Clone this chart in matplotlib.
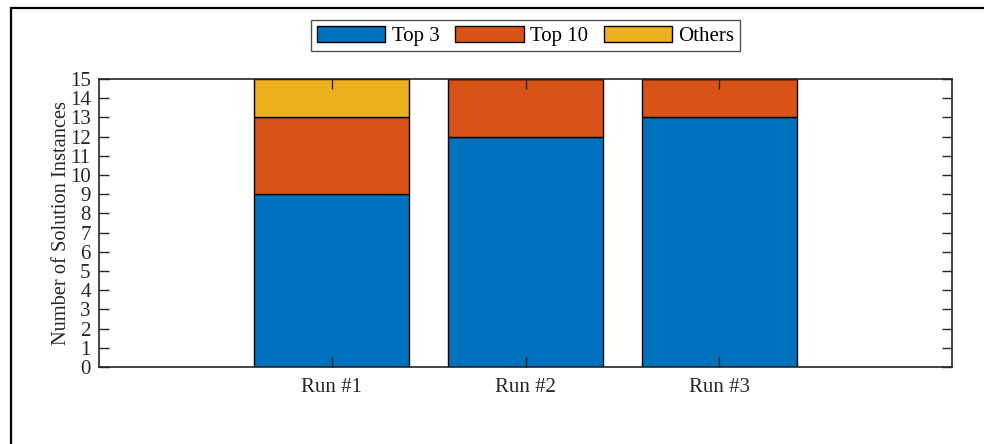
import matplotlib
matplotlib.use("Agg")
import matplotlib.pyplot as plt
from matplotlib.patches import Rectangle
import numpy as np

runs = ["Run #1", "Run #2", "Run #3"]
top3 = [9, 12, 13]
top10 = [4, 3, 2]
others = [2, 0, 0]
series_names = ["Top 3", "Top 10", "Others"]
colors = ["#0072BD", "#D95319", "#EDB120"]

plt.rcParams['font.family'] = ['Liberation Serif', 'DejaVu Serif']

fig = plt.figure(figsize=(9.84, 4.44), dpi=100)
ax = fig.add_axes([99/984, 1 - 367/444, (952-99)/984, (367-79)/444])

x = np.arange(1, len(runs) + 1)
bottom = np.zeros(len(runs))
for vals, name, c in zip([top3, top10, others], series_names, colors):
    ax.bar(x, vals, width=0.8, bottom=bottom, color=c, edgecolor='black',
           linewidth=1.0, label=name)
    bottom += np.array(vals)

ax.set_xlim(-0.2, 4.2)
ax.set_ylim(0, 15)
ax.set_yticks(range(0, 16))
ax.set_xticks(x)
ax.set_xticklabels(runs)
ax.tick_params(direction='in', length=7, width=1, labelsize=15,
               top=True, right=True, colors='#262626', labelcolor='#262626')
ax.tick_params(axis='y', pad=6)
ax.tick_params(axis='x', pad=8)
for s in ax.spines.values():
    s.set_linewidth(1.2)
    s.set_color('#262626')
ax.set_ylabel("Number of Solution Instances", fontsize=14.7, color='#262626', labelpad=-1)

leg = ax.legend(loc='lower center', bbox_to_anchor=(0.5, 1.097), ncol=3,
                fontsize=15, frameon=True, fancybox=False, edgecolor='#262626',
                handlelength=3.3, handleheight=0.8, columnspacing=0.75,
                handletextpad=0.3, borderpad=0.25, borderaxespad=0)
leg.get_frame().set_linewidth(1.0)

# outer frame (partially visible)
fig.patches.append(Rectangle((11/984, -0.1), 1.2, (1 - 8.5/444) + 0.1,
                             transform=fig.transFigure, fill=False,
                             edgecolor='black', linewidth=1.6))

fig.savefig("out.png", dpi=100)
